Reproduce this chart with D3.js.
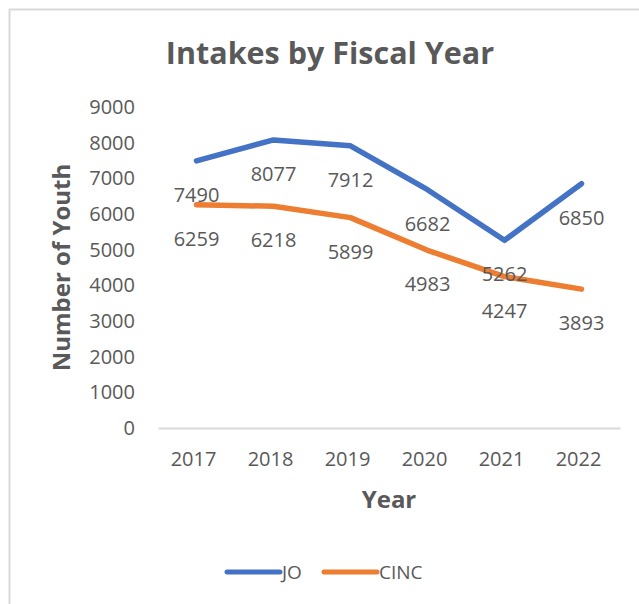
<!DOCTYPE html>
<html lang="en">
<head>
  <meta charset="UTF-8">
  <title>Intakes by Fiscal Year</title>
  <script src="https://d3js.org/d3.v7.min.js"></script>
  <style>
    body { margin: 0; background: #fff; }
    text { font-family: "Open Sans", sans-serif; fill: #595959; }
  </style>
</head>
<body>
  <div id="chart"></div>

  <script>
    // Data
    const years = ["2017", "2018", "2019", "2020", "2021", "2022"];
    const jo = [7490, 8077, 7912, 6682, 5262, 6850];
    const cinc = [6259, 6218, 5899, 4983, 4247, 3893];
    const yTicks = [0, 1000, 2000, 3000, 4000, 5000, 6000, 7000, 8000, 9000];

    const series = [
      { name: "JO", values: jo, color: "#4472C4" },
      { name: "CINC", values: cinc, color: "#ED7D31" }
    ];

    const W = 639, H = 604;
    const plot = { left: 158, right: 620, top: 107, bottom: 428 };

    const svg = d3.select("#chart")
      .append("svg")
      .attr("width", W)
      .attr("height", H);

    // chart frame (only top and left edges show in the crop)
    svg.append("path")
      .attr("d", "M9.5," + H + "V9.5H" + W)
      .attr("fill", "none")
      .attr("stroke", "#d9d9d9")
      .attr("stroke-width", 2);

    const x = d3.scaleBand()
      .domain(years)
      .range([plot.left, plot.right]);

    const y = d3.scaleLinear()
      .domain([0, 9000])
      .range([plot.bottom, plot.top]);

    // title
    svg.append("text")
      .attr("x", 330)
      .attr("y", 64)
      .attr("text-anchor", "middle")
      .style("font-size", "30.5px")
      .style("font-weight", "bold")
      .text("Intakes by Fiscal Year");

    // y axis (labels only)
    const yAxis = svg.append("g")
      .attr("transform", "translate(" + plot.left + ",0)")
      .call(d3.axisLeft(y).tickValues(yTicks).tickSize(0).tickPadding(23).tickFormat(d3.format("d")));
    yAxis.select(".domain").remove();
    yAxis.selectAll("text")
      .style("font-size", "20px")
      .style("fill", "#595959")
      .style("font-family", "'Open Sans', sans-serif");

    // x axis
    const xAxis = svg.append("g")
      .attr("transform", "translate(0," + plot.bottom + ")")
      .call(d3.axisBottom(x).tickSize(0).tickPadding(24));
    xAxis.select(".domain")
      .attr("stroke", "#d9d9d9")
      .attr("stroke-width", 2);
    xAxis.selectAll("text")
      .attr("dx", "-3")
      .style("font-size", "20px")
      .style("fill", "#595959")
      .style("font-family", "'Open Sans', sans-serif");

    // axis titles
    svg.append("text")
      .attr("transform", "translate(70," + ((plot.top + plot.bottom) / 2) + ") rotate(-90)")
      .attr("text-anchor", "middle")
      .style("font-size", "24px")
      .style("font-weight", "bold")
      .text("Number of Youth");

    svg.append("text")
      .attr("x", (plot.left + plot.right) / 2)
      .attr("y", 508)
      .attr("text-anchor", "middle")
      .style("font-size", "24px")
      .style("font-weight", "bold")
      .text("Year");

    // lines
    const line = d3.line()
      .x((d, i) => x(years[i]) + x.bandwidth() / 2)
      .y(d => y(d));

    series.forEach(s => {
      svg.append("path")
        .datum(s.values)
        .attr("d", line)
        .attr("fill", "none")
        .attr("stroke", s.color)
        .attr("stroke-width", 5.5)
        .attr("stroke-linejoin", "round")
        .attr("stroke-linecap", "round");
    });

    // data labels below each point
    series.forEach(s => {
      svg.append("g")
        .selectAll("text")
        .data(s.values)
        .join("text")
          .attr("x", (d, i) => x(years[i]) + x.bandwidth() / 2)
          .attr("y", d => y(d) + 34)
          .attr("dy", "0.35em")
          .attr("text-anchor", "middle")
          .style("font-size", "20px")
          .text(d => d);
    });

    // legend
    const legend = svg.append("g");
    const legendX = [227, 324];
    series.forEach((s, i) => {
      legend.append("line")
        .attr("x1", legendX[i]).attr("x2", legendX[i] + 53)
        .attr("y1", 572).attr("y2", 572)
        .attr("stroke", s.color)
        .attr("stroke-width", 5)
        .attr("stroke-linecap", "round");
      legend.append("text")
        .attr("x", legendX[i] + 55)
        .attr("y", 572)
        .attr("dy", "0.35em")
        .style("font-size", "19px")
        .text(s.name);
    });
  </script>
</body>
</html>
